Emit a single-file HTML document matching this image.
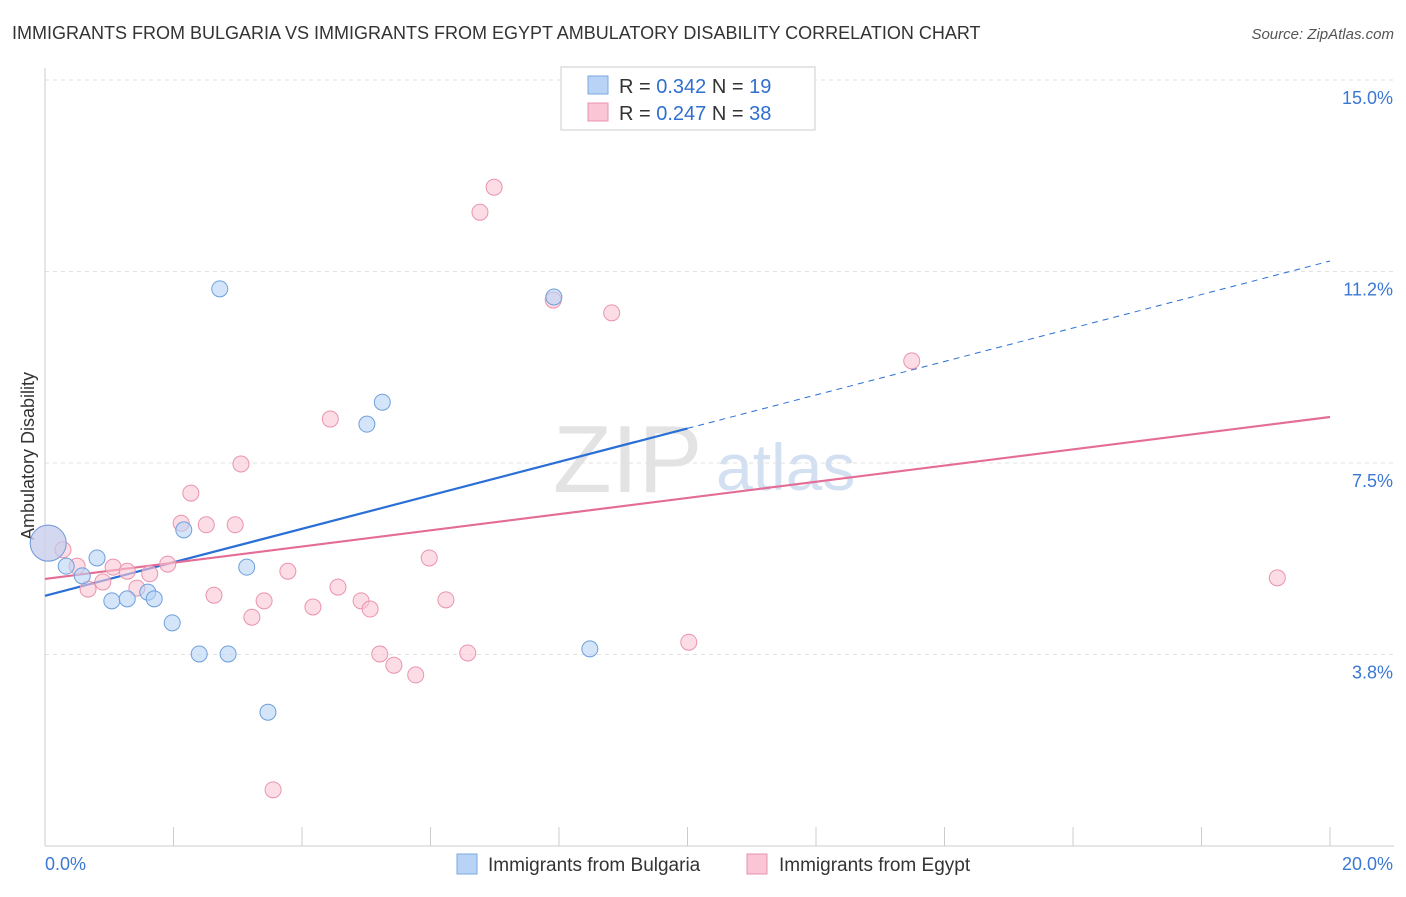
<!DOCTYPE html>
<html><head><meta charset="utf-8"><style>
body{margin:0;background:#fff;font-family:"Liberation Sans",sans-serif;}
svg text{font-family:"Liberation Sans",sans-serif;}
</style></head><body>
<svg id="chart" width="1406" height="892" viewBox="0 0 1406 892" xmlns="http://www.w3.org/2000/svg">
<text x="12" y="39" font-size="18" fill="#333">IMMIGRANTS FROM BULGARIA VS IMMIGRANTS FROM EGYPT AMBULATORY DISABILITY CORRELATION CHART</text>
<text x="1394" y="39" font-size="15" fill="#555" text-anchor="end" font-style="italic">Source: ZipAtlas.com</text>
<text transform="translate(34,456) rotate(-90)" font-size="18" fill="#333" text-anchor="middle">Ambulatory Disability</text>
<g>
<text x="553" y="492" font-size="96" fill="#ddd" font-family="Liberation Serif" opacity="0.8">ZIP</text>
<text x="716" y="490" font-size="66" fill="#c9d9ef" opacity="0.8">atlas</text>
</g>
<g id="grid"></g><g id="axes"></g><g id="trends"></g><g id="points"></g>
<g>
<rect x="561" y="67" width="254" height="63" fill="#fff" stroke="#ccc"/>
<rect x="588" y="76" width="20" height="18" fill="#b8d3f5" stroke="#7aa8e0"/>
<text x="619" y="93" font-size="20" fill="#333">R = <tspan fill="#2f6fcf">0.342</tspan>   N = <tspan fill="#2f6fcf">19</tspan></text>
<rect x="588" y="103" width="20" height="18" fill="#fac6d6" stroke="#ea93ae"/>
<text x="619" y="120" font-size="20" fill="#333">R = <tspan fill="#2f6fcf">0.247</tspan>   N = <tspan fill="#2f6fcf">38</tspan></text>
</g>
<g>
<rect x="457" y="854" width="20" height="20" fill="#b8d3f5" stroke="#7aa8e0"/>
<text x="488" y="871" font-size="19" fill="#333">Immigrants from Bulgaria</text>
<rect x="747" y="854" width="20" height="20" fill="#fac6d6" stroke="#ea93ae"/>
<text x="779" y="871" font-size="19" fill="#333">Immigrants from Egypt</text>
</g>
</svg>
<script>
const yTicks=[3.75,7.5,11.25,15];
const yTickLabels=["3.8%","7.5%","11.2%","15.0%"];
const xTickLabels=["0.0%","20.0%"];
const bulgariaX=[0.05,0.33,0.58,0.81,1.04,1.28,1.60,1.70,1.98,2.16,2.40,2.72,2.85,3.14,3.47,5.01,5.25,7.92,8.48];
const bulgariaY=[5.93,5.48,5.29,5.64,4.80,4.84,4.97,4.84,4.37,6.19,3.76,10.91,3.76,5.46,2.62,8.26,8.69,10.75,3.86];
const egyptX=[0.05,0.28,0.50,0.67,0.90,1.06,1.28,1.43,1.63,1.91,2.12,2.27,2.51,2.63,2.96,3.05,3.22,3.41,3.55,3.78,4.17,4.44,4.56,4.92,5.06,5.21,5.43,5.77,5.98,6.24,6.58,6.77,6.99,7.91,8.82,10.02,13.49,19.18];
const egyptY=[5.93,5.80,5.48,5.03,5.17,5.46,5.38,5.05,5.33,5.52,6.32,6.91,6.29,4.91,6.29,7.48,4.48,4.80,1.10,5.38,4.68,8.36,5.07,4.80,4.64,3.76,3.54,3.35,5.64,4.82,3.78,12.41,12.90,10.69,10.44,3.99,9.50,5.25];
const bulgariaTrend=[4.90,0.3277];
const egyptTrend=[5.23,0.1585];
const NS="http://www.w3.org/2000/svg";
const xs=v=>45+v*64.25, ys=v=>846-v*51.07;
function mk(tag,attrs,parent){const e=document.createElementNS(NS,tag);for(const k in attrs)e.setAttribute(k,attrs[k]);document.getElementById(parent).appendChild(e);return e;}
yTicks.forEach((t,i)=>{
 const g=mk('line',{x1:45,x2:1394,y1:ys(t),y2:ys(t),stroke:'#e2e2e2','stroke-dasharray':'4,4'},'grid');
 
 
 const l=mk('text',{x:1393,y:ys(t)+24,'font-size':18,fill:'#3a78d4','text-anchor':'end'},'axes');
 l.textContent=yTickLabels[i];
 
 
});
const ax=mk('line',{x1:45,x2:45,y1:68,y2:846,stroke:'#ccc'},'axes');


const bx=mk('line',{x1:45,x2:1394,y1:846,y2:846,stroke:'#ccc'},'axes');


for(let i=0;i<=10;i++){const t=mk('line',{x1:xs(i*2),x2:xs(i*2),y1:827,y2:846,stroke:'#ccc'},'axes');
 
 }
[[0,45,'start'],[20,1393,'end']].forEach((d,i)=>{const l=mk('text',{x:d[1],y:870,'font-size':18,fill:'#3a78d4','text-anchor':d[2]},'axes');l.textContent=xTickLabels[i];
 
 });
const tb=mk('line',{x1:xs(0),y1:ys(bulgariaTrend[0]),x2:xs(10),y2:ys(bulgariaTrend[0]+10*bulgariaTrend[1]),stroke:'#2a6fd6','stroke-width':2.2},'trends');


const td=mk('line',{x1:xs(10),y1:ys(bulgariaTrend[0]+10*bulgariaTrend[1]),x2:xs(20),y2:ys(bulgariaTrend[0]+20*bulgariaTrend[1]),stroke:'#2a6fd6','stroke-width':1,'stroke-dasharray':'6,5'},'trends');


const te=mk('line',{x1:xs(0),y1:ys(egyptTrend[0]),x2:xs(20),y2:ys(egyptTrend[0]+20*egyptTrend[1]),stroke:'#e46c95','stroke-width':2.2},'trends');


function pts(X,Y,fill,stroke,name){X.forEach((x,i)=>{const c=mk('circle',{cx:xs(x),cy:ys(Y[i]),r:i===0?18:8,fill:fill,stroke:stroke,'stroke-width':1,'fill-opacity':0.6},'points');
 
 });}
pts(egyptX,egyptY,'#fac6d6','#ea93ae','egypt-point');
pts(bulgariaX,bulgariaY,'#b8d3f5','#6e9fdc','bulgaria-point');
</script>
</body></html>
